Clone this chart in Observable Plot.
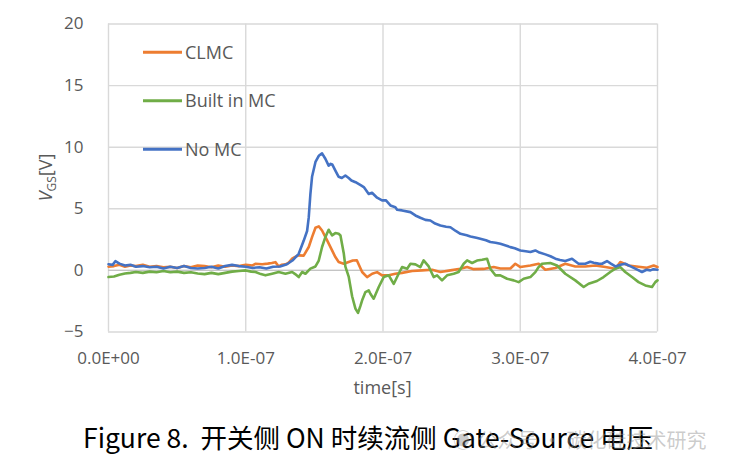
<!DOCTYPE html>
<html><head><meta charset="utf-8">
<script src="https://cdn.jsdelivr.net/npm/d3@7"></script>
<script src="https://cdn.jsdelivr.net/npm/@observablehq/plot@0.6"></script>
<style>
body{margin:0;background:#fff;}
#wrap{position:relative;width:729px;height:471px;overflow:hidden;background:#fff;}
#title{position:absolute;left:83px;top:417px;font-family:"Noto Sans CJK SC","Noto Sans",sans-serif;font-size:26.5px;color:#000;white-space:pre;}
#wm{position:absolute;left:453px;top:425px;font-family:"Noto Sans CJK SC",sans-serif;font-size:20px;color:rgba(140,140,140,0.45);white-space:pre;}
</style></head><body><div id="wrap"></div>
<script>
// time in ns, voltage in V
const xTicks = [0, 100, 200, 300, 400];
const xTickLabels = ["0.0E+00", "1.0E-07", "2.0E-07", "3.0E-07", "4.0E-07"];
const yTicks = [-5, 0, 5, 10, 15, 20];
const seriesNames = ["CLMC", "Built in MC", "No MC"];
const seriesColors = ["#ED7D31", "#70AD47", "#4472C4"];

const clmcT = [0,4,8,12,16,20,25,30,35,40,45,50,55,60,65,70,75,80,85,90,95,100,105,107,112,116,119,121.6,124,126,128.9,131,133.8,136,138.6,142.2,145.9,148.3,150.8,153.2,155.6,159.3,162.9,165.3,167.7,171.4,175,178,181,184.8,188.4,192.1,195.7,199.3,204.2,209,213.9,221.2,228.5,235.8,241.8,249.1,256.4,261.3,266.1,273.3,280.6,285.5,292.8,296.4,300.1,307.4,313.4,318.3,325.6,332.8,340.1,347.4,354.7,362,369.3,372.9,378.9,386.2,392.3,397.2,400];
const clmcV = [0.3,0.35,0.45,0.3,0.4,0.35,0.45,0.3,0.35,0.25,0.3,0.2,0.35,0.25,0.4,0.35,0.25,0.4,0.3,0.4,0.35,0.45,0.4,0.54,0.5,0.55,0.6,0.67,0.32,0.45,0.49,0.6,0.95,1.1,1.22,1.2,1.9,2.7,3.46,3.57,3.24,2.43,1.62,1.08,0.68,0.54,0.68,0.8,0.81,-0.13,-0.54,-0.27,-0.14,-0.4,-0.4,-0.27,-0.2,-0.05,0,0.05,-0.13,0,0.14,0.27,0.1,0.12,0.27,0.15,0.15,0.54,0.27,0.4,0.54,0.05,0.2,0.54,0.32,0.32,0.4,0.27,0.14,0.68,0.4,0.3,0.22,0.4,0.27];

const builtT = [0,4,8,12,16,20,25,30,35,40,45,50,55,60,65,70,75,80,85,90,95,100,104,107.1,111,114.3,119.2,124,128.9,133.8,136,138.6,141.1,143.5,147.1,150.8,153.2,155.6,158,160.4,162.9,165.3,167.7,169,171.4,172.6,175,177.5,179.9,181.8,183.5,184.8,187.2,189.6,190.8,193.2,196.9,200.5,204.2,207.8,211.4,213.9,217.6,220,223.6,227.2,229.6,233.3,236.9,239.4,243,246.7,251.5,255.1,258.8,261.3,264.9,268.5,272.2,275.8,278.2,281.9,285.5,290.4,295.2,298.8,302.5,307.4,311,313.4,315.9,321.9,326.8,332.8,340.1,346.2,349.8,355.9,360.7,365.6,369.3,372.9,376.5,381.4,386.2,391.1,396,398.4,400];
const builtV = [-0.54,-0.5,-0.35,-0.25,-0.2,-0.13,-0.2,-0.1,-0.15,-0.05,-0.15,-0.1,-0.2,-0.15,-0.25,-0.3,-0.2,-0.3,-0.2,-0.1,-0.05,0,-0.1,-0.13,-0.3,-0.4,-0.27,-0.13,-0.27,-0.13,-0.3,-0.54,-0.13,-0.27,0.14,0.32,0.8,1.9,2.7,3.3,2.84,3.03,2.97,2.84,1.4,0.3,-0.5,-2.1,-3.1,-3.45,-2.9,-2.43,-1.76,-1.62,-1.9,-2.3,-1.35,-0.54,-0.4,-1.1,-0.27,0.27,0.14,0.54,0.49,0.27,0.81,0.32,-0.54,-0.4,-0.81,-0.4,-0.27,-0.13,0.54,0.81,0.6,0.8,0.86,0.95,0.14,-0.4,-0.4,-0.68,-0.81,-0.95,-0.68,-0.54,-0.14,0.27,0.54,0.6,0.4,-0.27,-0.81,-1.35,-1.08,-0.86,-0.54,-0.13,0.14,0.27,-0.13,-0.54,-0.95,-1.22,-1.35,-0.95,-0.81];

const noMcT = [0,3,5,8,12,16,20,25,30,35,40,45,50,55,60,65,70,75,80,85,90,95,100,105,110,115,120,125,130,134,138.6,142.2,144.7,145.9,147.1,148.3,150.8,153.2,155.6,158,160.4,161.9,163,165.3,167.7,170,172.6,175,177,180,184,186,189.6,192,195.7,199.3,202,205.4,209,210.3,213.9,220,223.6,227.2,230.9,234.5,238,241.8,246,249.1,253,256.4,261,263.7,268,270.9,275,278.2,282,285.5,290,292.8,296,300.1,304,307.4,311,314,318.3,322,325.6,329,332.8,337.7,342.5,347.4,351,353.5,357,359.6,363.2,366,369.3,373,376.5,380,383.8,388.7,392,394.8,397,400];
const noMcV = [0.5,0.45,0.75,0.55,0.4,0.45,0.3,0.35,0.25,0.3,0.15,0.3,0.2,0.35,0.2,0.15,0.2,0.3,0.15,0.35,0.45,0.35,0.3,0.2,0.25,0.15,0.3,0.32,0.5,0.8,1.35,2.4,3.2,4.3,6.2,7.6,8.8,9.3,9.5,9.06,8.5,8.65,8.6,8.1,7.6,7.5,7.7,7.5,7.3,7.16,6.9,6.76,6.2,6.3,5.9,5.68,5.7,5.27,5.13,4.92,4.87,4.73,4.46,4.27,4.1,4.05,3.8,3.65,3.55,3.5,3.2,2.97,2.85,2.76,2.65,2.57,2.45,2.3,2.25,2.16,2.0,1.89,1.8,1.62,1.55,1.49,1.62,1.45,1.3,1.15,0.95,0.85,0.76,0.95,0.54,0.54,0.7,0.62,0.55,0.54,0.76,0.55,0.32,0.45,0.54,0.35,0.14,-0.13,0.05,0,0.1,0.05];

const seriesData = [
  clmcT.map((t, i) => ({t, v: clmcV[i]})),
  builtT.map((t, i) => ({t, v: builtV[i]})),
  noMcT.map((t, i) => ({t, v: noMcV[i]}))
];

const font = '"Open Sans", sans-serif';
const plot = Plot.plot({
  width: 729, height: 400,
  marginLeft: 108, marginRight: 72, marginTop: 23.5, marginBottom: 68.5,
  style: {fontFamily: font, fontSize: "17px", color: "#595959", background: "white"},
  x: {domain: [0, 400], label: null},
  y: {domain: [-5, 20], label: null},
  marks: [
    Plot.gridX(xTicks, {stroke: "#d9d9d9", strokeOpacity: 1, strokeWidth: 1.4}),
    Plot.gridY(yTicks, {stroke: "#d9d9d9", strokeOpacity: 1, strokeWidth: 1.4}),
    Plot.ruleY([0], {stroke: "#c4c4c4", strokeWidth: 1.4}),
    Plot.axisX({ticks: xTicks, tickFormat: d => xTickLabels[xTicks.indexOf(d)], tickSize: 0, tickPadding: 20, label: null}),
    Plot.axisY({ticks: yTicks, tickSize: 0, tickPadding: 25, label: null}),
    ...seriesData.map((d, i) => Plot.line(d, {x: "t", y: "v", stroke: seriesColors[i], strokeWidth: 2.6, curve: "linear"}))
  ]
});

const wrap = document.getElementById("wrap");
wrap.appendChild(plot);
const svg = d3.select(plot);

// axis titles
const yl = svg.append("text")
  .attr("transform", "translate(52,177.5) rotate(-90)")
  .attr("text-anchor", "middle")
  .attr("font-family", font).attr("font-size", 18).attr("fill", "#595959");
yl.append("tspan").attr("font-style", "italic").text("V");
yl.append("tspan").attr("font-size", 12).attr("dy", 4).text("GS");
yl.append("tspan").attr("dy", -4).text("[V]");

svg.append("text")
  .attr("x", 382.5).attr("y", 394)
  .attr("text-anchor", "middle")
  .attr("font-family", font).attr("font-size", 18).attr("fill", "#595959")
  .text("time[s]");

// legend
const lg = svg.append("g");
seriesNames.forEach((name, i) => {
  const y = 52.3 + i * 48.5;
  lg.append("line").attr("x1", 143).attr("x2", 182).attr("y1", y).attr("y2", y)
    .attr("stroke", seriesColors[i]).attr("stroke-width", 3);
  lg.append("text").attr("x", 185).attr("y", y).attr("dy", "0.35em")
    .attr("text-anchor", "start")
    .attr("font-family", font).attr("font-size", 18).attr("fill", "#595959").text(name);
});

const title = document.createElement("div");
title.id = "title";
title.textContent = "Figure 8.  开关侧 ON 时续流侧 Gate-Source 电压";
wrap.appendChild(title);
const wm = document.createElement("div");
wm.id = "wm";
wm.textContent = "◉ 公众号 · 碳化硅技术研究";
wrap.appendChild(wm);
</script></body></html>
